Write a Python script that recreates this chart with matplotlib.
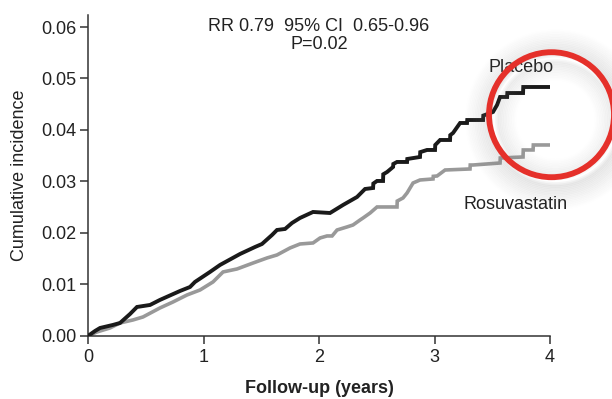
import numpy as np
import matplotlib
matplotlib.use("Agg")
from matplotlib import pyplot as plt
from matplotlib.patches import Ellipse

plt.rcParams['font.family'] = ['Liberation Sans', 'DejaVu Sans']

# cumulative incidence (years, incidence)
placebo_t = [0.0, 0.061, 0.104, 0.216, 0.277, 0.364, 0.424, 0.537, 0.623, 0.797, 0.883, 0.926,
             1.056, 1.143, 1.316, 1.446, 1.506, 1.593, 1.636, 1.706, 1.766, 1.835, 1.948, 2.095,
             2.208, 2.329, 2.398, 2.468, 2.47, 2.502, 2.554, 2.556, 2.589, 2.641, 2.643, 2.675,
             2.762, 2.764, 2.874, 2.876, 2.935, 3.004, 3.006, 3.048, 3.134, 3.136, 3.160, 3.221,
             3.281, 3.283, 3.420, 3.422, 3.506, 3.541, 3.567, 3.628, 3.630, 3.766, 3.768, 4.0]
placebo_y = [0.0, 0.00097, 0.00155, 0.00214, 0.00252, 0.00427, 0.00563, 0.00602, 0.0070, 0.00874,
             0.00951, 0.01049, 0.01243, 0.01379, 0.01592, 0.01728, 0.01786, 0.01961, 0.02058,
             0.02078, 0.02194, 0.02291, 0.02408, 0.02388, 0.02544, 0.02699, 0.02854, 0.02874,
             0.0296, 0.0301, 0.0301, 0.0314, 0.03184, 0.03282, 0.0334, 0.03379, 0.03379, 0.03437,
             0.03476, 0.0357, 0.03612, 0.03612, 0.03709, 0.03806, 0.03806, 0.0390, 0.03942,
             0.04136, 0.04136, 0.04194, 0.04194, 0.0428, 0.04350, 0.04485, 0.04641, 0.04641,
             0.04718, 0.04718, 0.04835, 0.04835]

rosuva_t = [0.0, 0.078, 0.190, 0.277, 0.390, 0.476, 0.623, 0.736, 0.857, 0.970, 1.082, 1.169,
            1.290, 1.429, 1.550, 1.636, 1.749, 1.835, 1.948, 2.009, 2.069, 2.113, 2.156, 2.242,
            2.294, 2.355, 2.381, 2.442, 2.502, 2.675, 2.677, 2.727, 2.762, 2.814, 2.874, 2.987,
            2.989, 3.022, 3.091, 3.307, 3.309, 3.333, 3.567, 3.569, 3.766, 3.768, 3.853, 3.855, 4.0]
rosuva_y = [0.0, 0.00078, 0.00155, 0.00252, 0.00311, 0.00369, 0.00544, 0.0066, 0.00796, 0.00893,
            0.01049, 0.01243, 0.01301, 0.01417, 0.01515, 0.01573, 0.01709, 0.01786, 0.01806,
            0.01903, 0.01942, 0.01942, 0.02058, 0.02117, 0.02155, 0.02252, 0.02291, 0.02388,
            0.02505, 0.02505, 0.0262, 0.0268, 0.02777, 0.02971, 0.03029, 0.03049, 0.0310,
            0.03107, 0.03223, 0.03243, 0.0332, 0.0332, 0.03359, 0.03456, 0.03476, 0.03612,
            0.03612, 0.03709, 0.03709]

xticks = [0, 1, 2, 3, 4]
yticks = [0.00, 0.01, 0.02, 0.03, 0.04, 0.05, 0.06]

fig = plt.figure(figsize=(6.12, 3.99), dpi=100)
ax = fig.add_axes([0.1438, 0.158, 0.755, 0.804])

ax.plot(placebo_t, placebo_y, color='#1a1a1a', lw=2.8, solid_joinstyle='miter', zorder=3)
ax.plot(rosuva_t, rosuva_y, color='#999999', lw=2.6, solid_joinstyle='miter', zorder=2)

ax.set_xlim(0, 4)
ax.set_ylim(0, 0.0623)
ax.set_xticks(xticks)
ax.set_yticks(yticks)
ax.set_xticklabels([str(v) for v in xticks])
ax.set_yticklabels(['%.2f' % v for v in yticks])
for s in ['top', 'right']:
    ax.spines[s].set_visible(False)
for s in ['left', 'bottom']:
    ax.spines[s].set_color('#333333')
    ax.spines[s].set_linewidth(1.1)
ax.spines['bottom'].set_bounds(0, 4)
ax.tick_params(colors='#333333', width=1.1, length=5.5, labelsize=13, labelcolor='#222222')
ax.tick_params(axis='x', pad=4)
ax.tick_params(axis='y', pad=3)

ax.set_ylabel('Cumulative incidence', fontsize=13, color='#222222', labelpad=9)
ax.set_xlabel('Follow-up (years)', fontsize=13, fontweight='bold', color='#222222', labelpad=10)

ax.text(0.5, 0.965, 'RR 0.79  95% CI  0.65-0.96', transform=ax.transAxes, ha='center',
        va='center', fontsize=13, color='#222222')
ax.text(0.5, 0.91, 'P=0.02', transform=ax.transAxes, ha='center', va='center',
        fontsize=13, color='#222222')
ax.text(3.75, 0.0522, 'Placebo', ha='center', va='center', fontsize=13, color='#222222')
ax.text(3.25, 0.0255, 'Rosuvastatin', ha='left', va='center', fontsize=13, color='#222222')

# red highlight circle with a soft grey shadow (pixel geometry in figure fractions)
W, H = 612.0, 399.0
cx, cy, r = 551.5 / W, (H - 114.7) / H, 62.5
for i in range(16):
    rr = r + 2 + i * 1.6
    sh = Ellipse((cx + 4 / W, cy - 5 / H), 2 * rr / W, 2 * rr / H, transform=fig.transFigure,
                 fill=False, lw=3, edgecolor='#808080', alpha=0.08 * (1 - i / 16.0), zorder=4)
    fig.add_artist(sh)
for i in range(12):
    rr = r - 4 - i * 1.6
    sh = Ellipse((cx + 4 / W, cy - 5 / H), 2 * rr / W, 2 * rr / H, transform=fig.transFigure,
                 fill=False, lw=3, edgecolor='#808080', alpha=0.06 * (1 - i / 12.0), zorder=4)
    fig.add_artist(sh)
ring = Ellipse((cx, cy), 2 * r / W, 2 * r / H, transform=fig.transFigure, fill=False,
               lw=4.2, edgecolor='#e5302a', zorder=5)
fig.add_artist(ring)

plt.savefig('out.png', dpi=100)
